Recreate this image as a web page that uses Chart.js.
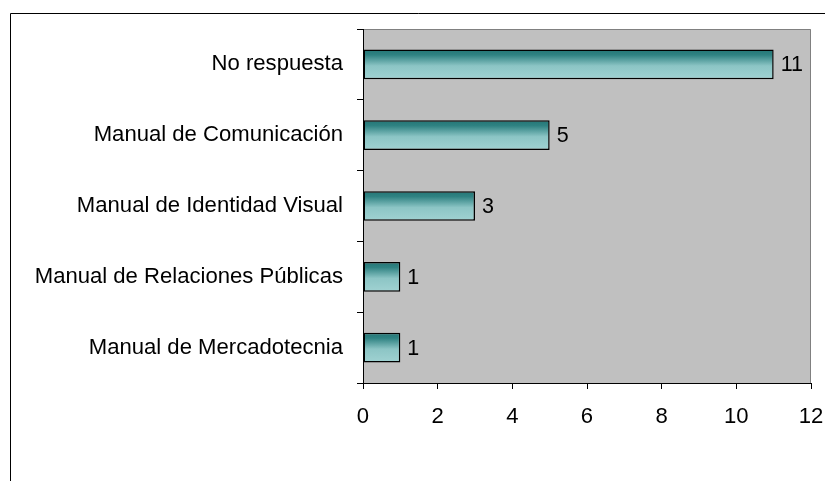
<!DOCTYPE html>
<html>
<head>
<meta charset="utf-8">
<script src="https://cdn.jsdelivr.net/npm/chart.js@4"></script>
<style>
  html, body { margin: 0; padding: 0; background: #fff; }
  #wrap { width: 825px; height: 481px; }
</style>
</head>
<body>
<div id="wrap"><canvas id="myChart" width="825" height="481"></canvas></div>
<script>
var categories = ['No respuesta', 'Manual de Comunicación', 'Manual de Identidad Visual', 'Manual de Relaciones Públicas', 'Manual de Mercadotecnia'];
var values = [11, 5, 3, 1, 1];
var xTicks = [0, 2, 4, 6, 8, 10, 12];

var FONT = "'Liberation Sans', Arial, sans-serif";

// frame, grey plot area, gradient bars, value labels
var chartDeco = {
  id: 'chartDeco',
  beforeDraw: function (chart) {
    var c = chart.ctx, a = chart.chartArea;
    c.save();
    c.strokeStyle = '#000';
    c.lineWidth = 1;
    c.beginPath();
    c.moveTo(10.5, 490);
    c.lineTo(10.5, 13.5);
    c.lineTo(830, 13.5);
    c.stroke();
    c.fillStyle = '#c0c0c0';
    c.fillRect(a.left, a.top, a.right - a.left, a.bottom - a.top);
    c.strokeStyle = '#808080';
    c.beginPath();
    c.moveTo(a.left, a.top + 0.5);
    c.lineTo(a.right - 0.5, a.top + 0.5);
    c.lineTo(a.right - 0.5, a.bottom);
    c.stroke();
    c.restore();
  },
  beforeDatasetsDraw: function (chart) {
    var c = chart.ctx;
    chart.getDatasetMeta(0).data.forEach(function (el) {
      var top = el.y - el.height / 2, bot = el.y + el.height / 2;
      var g = c.createLinearGradient(0, top, 0, bot);
      g.addColorStop(0, '#247676');
      g.addColorStop(0.18, '#2f8282');
      g.addColorStop(0.55, '#8cc5c5');
      g.addColorStop(1, '#a0d2d2');
      el.options = Object.assign({}, el.options, { backgroundColor: g });
    });
  },
  afterDatasetsDraw: function (chart) {
    var c = chart.ctx;
    c.save();
    c.fillStyle = '#000';
    c.font = '21.5px ' + FONT;
    c.textBaseline = 'middle';
    c.textAlign = 'left';
    chart.getDatasetMeta(0).data.forEach(function (el, i) {
      c.fillText(values[i], el.x + 7, el.y + 1);
    });
    c.restore();
  }
};

var ctx = document.getElementById('myChart');
var myChart = new Chart(ctx, {
  type: 'bar',
  data: {
    labels: categories,
    datasets: [{
      data: values,
      backgroundColor: '#8ec6c6',
      borderColor: '#000',
      borderWidth: 1.5,
      borderSkipped: false,
      categoryPercentage: 1,
      barPercentage: 0.42
    }]
  },
  plugins: [chartDeco],
  options: {
    indexAxis: 'y',
    responsive: false,
    animation: false,
    layout: { padding: { left: 0, top: 29, right: 14, bottom: 0 } },
    plugins: { legend: { display: false }, tooltip: { enabled: false } },
    scales: {
      y: {
        grid: { drawOnChartArea: false, tickLength: 6, color: '#000', offset: true },
        border: { color: '#000', width: 1 },
        ticks: { color: '#000', padding: 14, font: { family: FONT, size: 22.1 } },
        afterFit: function (s) { s.width = 363; s.paddingTop = 0; s.paddingBottom = 0; }
      },
      x: {
        min: 0, max: 12,
        afterBuildTicks: function (s) { s.ticks = xTicks.map(function (v) { return { value: v }; }); },
        grid: { drawOnChartArea: false, tickLength: 6, color: '#000' },
        border: { color: '#000', width: 1 },
        ticks: { color: '#000', padding: 15, maxRotation: 0, font: { family: FONT, size: 22.1 } },
        afterFit: function (s) { s.height = 98; s.paddingLeft = 0; s.paddingRight = 0; }
      }
    }
  }
});
</script>
</body>
</html>
